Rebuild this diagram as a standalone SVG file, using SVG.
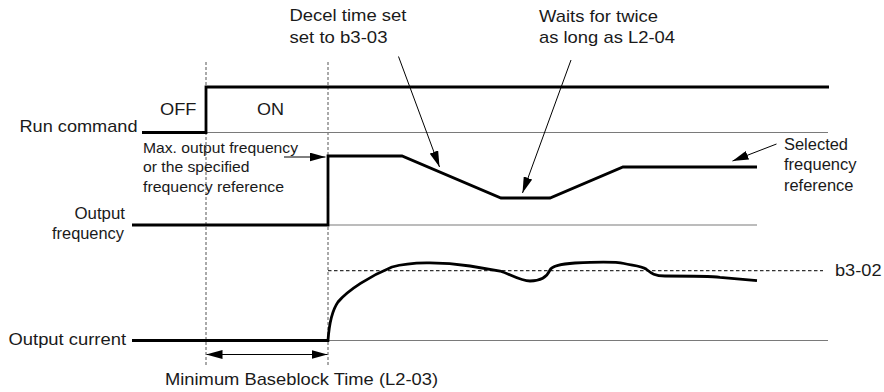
<svg xmlns="http://www.w3.org/2000/svg" width="884" height="392" viewBox="0 0 884 392">
<style>
  .t { font-family: "Liberation Sans", Arial, sans-serif; font-size: 16.4px; fill: #1a1a1a; }
  .s { font-family: "Liberation Sans", Arial, sans-serif; font-size: 14.4px; fill: #1a1a1a; }
  .m { font-family: "Liberation Sans", Arial, sans-serif; font-size: 15.6px; fill: #1a1a1a; }
  .thick { fill: none; stroke: #000; stroke-width: 2.8; stroke-linejoin: miter; }
  .thin { fill: none; stroke: #7a7a7a; stroke-width: 1.2; }
  .vdash { fill: none; stroke: #555; stroke-width: 1; stroke-dasharray: 3 2; }
  .hdot { fill: none; stroke: #333; stroke-width: 1.2; stroke-dasharray: 3.5 2.5; }
  .lead { fill: none; stroke: #000; stroke-width: 1; }
</style>
<defs>
  <marker id="ah" markerUnits="userSpaceOnUse" markerWidth="16" markerHeight="9" refX="16" refY="4.5" orient="auto-start-reverse">
    <path d="M0,0 L16,4.5 L0,9 z" fill="#000"/>
  </marker>
</defs>

<g id="grid">
  <path class="vdash" d="M206,62 V366"/>
  <path class="vdash" d="M328,62 V366"/>
  <path class="thin" d="M206,132.5 H828"/>
  <path class="thin" d="M328,225 H757"/>
  <path class="thin" d="M328,340.5 H828"/>
  <path class="hdot" d="M328,270.7 H823"/>
</g>

<g id="run-command">
  <path class="thick" d="M142,132.5 H206 V87 H829"/>
  <text class="t" x="19.5" y="132" textLength="118" lengthAdjust="spacingAndGlyphs">Run command</text>
  <text class="t" x="160" y="115" textLength="36.5" lengthAdjust="spacingAndGlyphs">OFF</text>
  <text class="t" x="257" y="115" textLength="27" lengthAdjust="spacingAndGlyphs">ON</text>
</g>

<g id="output-frequency">
  <path class="thick" d="M132,225 H328 V156 H402 L501,198 H550 L623,167 H757"/>
  <text class="t" x="74.5" y="219" textLength="50.5" lengthAdjust="spacingAndGlyphs">Output</text>
  <text class="t" x="52" y="238.5" textLength="72" lengthAdjust="spacingAndGlyphs">frequency</text>
</g>

<g id="output-current">
  <path class="thick" d="M132,340.5 H328 C329,326 331,312 338,302 C348,290 370,276 392,267 C410,262 440,261.5 470,266 L500,271 C510,274 520,281 530,281 C540,281 547,277 550,270 C552,266 560,264 575,263 C595,262 615,261.5 624,263.5 C632,265.5 641,265.5 646,269 C651,273 654,276 665,276 C690,276 710,276 720,277.3 L757,280.7"/>
  <text class="t" x="8.5" y="345" textLength="117.5" lengthAdjust="spacingAndGlyphs">Output current</text>
</g>

<g id="label-decel">
  <text class="t" x="289.5" y="21" textLength="117" lengthAdjust="spacingAndGlyphs">Decel time set</text>
  <text class="t" x="289.5" y="42.5" textLength="98" lengthAdjust="spacingAndGlyphs">set to b3-03</text>
</g>

<g id="label-waits">
  <text class="t" x="539" y="21.5" textLength="119" lengthAdjust="spacingAndGlyphs">Waits for twice</text>
  <text class="t" x="539" y="43" textLength="136" lengthAdjust="spacingAndGlyphs">as long as L2-04</text>
</g>

<g id="label-max">
  <text class="s" x="143" y="153" textLength="155" lengthAdjust="spacingAndGlyphs">Max. output frequency</text>
  <text class="s" x="143" y="172" textLength="106.5" lengthAdjust="spacingAndGlyphs">or the specified</text>
  <text class="s" x="143" y="191.5" textLength="141" lengthAdjust="spacingAndGlyphs">frequency reference</text>
</g>

<g id="label-selected">
  <text class="m" x="784" y="149.5" textLength="64" lengthAdjust="spacingAndGlyphs">Selected</text>
  <text class="m" x="784" y="170" textLength="72.5" lengthAdjust="spacingAndGlyphs">frequency</text>
  <text class="m" x="784" y="190.5" textLength="69.5" lengthAdjust="spacingAndGlyphs">reference</text>
</g>

<g id="label-b3-02">
  <text class="t" x="835" y="275.5" textLength="46.5" lengthAdjust="spacingAndGlyphs">b3-02</text>
</g>

<g id="label-baseblock">
  <text class="t" x="165" y="385" textLength="273" lengthAdjust="spacingAndGlyphs">Minimum Baseblock Time (L2-03)</text>
</g>

<g id="connectors">
  <path class="lead" marker-end="url(#ah)" d="M284,157 L325.5,157"/>
  <path class="lead" marker-end="url(#ah)" d="M398.5,56.5 L439.5,167"/>
  <path class="lead" marker-end="url(#ah)" d="M571,60 L522.5,193"/>
  <path class="lead" marker-end="url(#ah)" d="M776.5,144 L732.5,161"/>
  <path class="lead" marker-start="url(#ah)" marker-end="url(#ah)" d="M206.5,354.5 L327.5,354.5"/>
</g>
</svg>
